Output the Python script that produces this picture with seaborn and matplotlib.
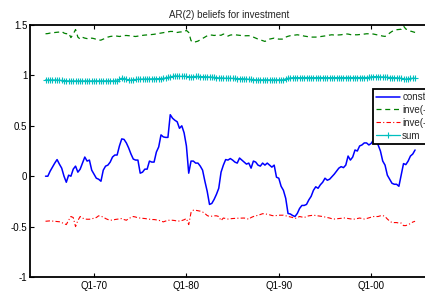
import numpy as np
import pandas as pd
import matplotlib
matplotlib.use("Agg")
import matplotlib.pyplot as plt
import seaborn as sns

# ---- data (quarterly, 1964Q4 .. 2004Q4) ----
start_year = 1964.75
const = [0.0, 0.0, 0.05, 0.09, 0.13, 0.165, 0.12, 0.08, -0.0, -0.06,
         0.01, 0.0, 0.07, 0.1, 0.04, 0.07, 0.13, 0.19, 0.15, 0.16,
         0.06, 0.02, -0.02, -0.03, -0.05, 0.06, 0.1, 0.11, 0.14, 0.19,
         0.21, 0.21, 0.3, 0.37, 0.365, 0.33, 0.28, 0.22, 0.17, 0.16,
         0.16, 0.03, 0.04, 0.07, 0.07, 0.15, 0.14, 0.14, 0.24, 0.29,
         0.41, 0.39, 0.385, 0.385, 0.61, 0.575, 0.555, 0.54, 0.475, 0.5,
         0.43, 0.3, 0.03, 0.15, 0.15, 0.13, 0.13, 0.1, 0.06, -0.05,
         -0.15, -0.28, -0.27, -0.23, -0.18, -0.12, 0.04, 0.11, 0.165, 0.16,
         0.175, 0.16, 0.14, 0.13, 0.18, 0.16, 0.14, 0.12, 0.13, 0.08,
         0.15, 0.14, 0.11, 0.1, 0.13, 0.11, 0.13, 0.11, 0.09, 0.11,
         -0.01, -0.02, -0.1, -0.14, -0.22, -0.37, -0.375, -0.39, -0.4, -0.37,
         -0.32, -0.29, -0.29, -0.28, -0.235, -0.2, -0.14, -0.105, -0.12, -0.085,
         -0.06, -0.02, -0.04, -0.03, -0.005, 0.02, 0.05, 0.08, 0.095, 0.085,
         0.11, 0.2, 0.16, 0.19, 0.26, 0.25, 0.3, 0.31, 0.33, 0.33,
         0.31, 0.325, 0.36, 0.35, 0.31, 0.25, 0.15, 0.11, 0.01, -0.03,
         -0.07, -0.08, -0.08, -0.1, 0.01, 0.125, 0.115, 0.15, 0.2, 0.22,
         0.26]
inve1 = [1.413, 1.415, 1.42, 1.423, 1.426, 1.428, 1.43, 1.436, 1.42, 1.413,
         1.42, 1.375, 1.41, 1.455, 1.38, 1.36, 1.378, 1.37, 1.365, 1.36,
         1.37, 1.365, 1.358, 1.35, 1.35, 1.36, 1.37, 1.38, 1.386, 1.39,
         1.393, 1.39, 1.386, 1.39, 1.395, 1.396, 1.394, 1.392, 1.388, 1.386,
         1.39, 1.393, 1.397, 1.40, 1.401, 1.403, 1.405, 1.408, 1.412, 1.417,
         1.42, 1.423, 1.427, 1.432, 1.436, 1.436, 1.43, 1.426, 1.43, 1.432,
         1.434, 1.446, 1.426, 1.345, 1.327, 1.333, 1.34, 1.353, 1.365, 1.38,
         1.393, 1.40, 1.40, 1.396, 1.40, 1.40, 1.398, 1.41, 1.405, 1.39,
         1.40, 1.403, 1.403, 1.40, 1.396, 1.395, 1.393, 1.393, 1.394, 1.39,
         1.38, 1.37, 1.36, 1.353, 1.345, 1.337, 1.35, 1.36, 1.365, 1.37,
         1.365, 1.36, 1.36, 1.36, 1.38, 1.388, 1.394, 1.397, 1.40, 1.403,
         1.40, 1.396, 1.39, 1.386, 1.383, 1.38, 1.38, 1.38, 1.382, 1.385,
         1.388, 1.39, 1.395, 1.40, 1.403, 1.40, 1.40, 1.402, 1.403, 1.408,
         1.412, 1.41, 1.405, 1.403, 1.403, 1.403, 1.405, 1.407, 1.41, 1.413,
         1.413, 1.413, 1.41, 1.405, 1.40, 1.395, 1.39, 1.387, 1.40, 1.42,
         1.436, 1.448, 1.453, 1.455, 1.458, 1.49, 1.46, 1.453, 1.44, 1.433,
         1.426]
inve2 = [-0.447, -0.445, -0.443, -0.445, -0.447, -0.45, -0.452, -0.46, -0.47, -0.48,
         -0.437, -0.40, -0.41, -0.50, -0.44, -0.40, -0.415, -0.425, -0.427, -0.427,
         -0.423, -0.417, -0.41, -0.393, -0.398, -0.405, -0.42, -0.43, -0.435, -0.437,
         -0.43, -0.427, -0.423, -0.42, -0.43, -0.437, -0.42, -0.41, -0.40, -0.405,
         -0.413, -0.415, -0.418, -0.42, -0.423, -0.427, -0.43, -0.43, -0.433, -0.437,
         -0.445, -0.453, -0.445, -0.437, -0.437, -0.437, -0.44, -0.445, -0.445, -0.44,
         -0.432, -0.42, -0.48, -0.36, -0.337, -0.338, -0.342, -0.347, -0.355, -0.37,
         -0.39, -0.40, -0.397, -0.393, -0.393, -0.40, -0.44, -0.415, -0.42, -0.425,
         -0.422, -0.42, -0.418, -0.417, -0.416, -0.414, -0.415, -0.42, -0.427, -0.41,
         -0.40, -0.393, -0.388, -0.38, -0.372, -0.373, -0.378, -0.383, -0.39, -0.393,
         -0.39, -0.387, -0.387, -0.387, -0.393, -0.40, -0.405, -0.41, -0.42, -0.41,
         -0.40, -0.405, -0.41, -0.40, -0.393, -0.39, -0.387, -0.39, -0.393, -0.395,
         -0.40, -0.405, -0.41, -0.415, -0.422, -0.425, -0.422, -0.42, -0.418, -0.413,
         -0.416, -0.42, -0.423, -0.427, -0.425, -0.42, -0.415, -0.42, -0.425, -0.42,
         -0.413, -0.405, -0.40, -0.40, -0.40, -0.393, -0.39, -0.40, -0.425, -0.445,
         -0.46, -0.46, -0.46, -0.465, -0.465, -0.49, -0.49, -0.48, -0.47, -0.455,
         -0.447]
sum_ = [0.955, 0.955, 0.955, 0.955, 0.955, 0.955, 0.952, 0.95, 0.948, 0.946,
        0.945, 0.945, 0.944, 0.945, 0.946, 0.945, 0.944, 0.944, 0.945, 0.946,
        0.945, 0.944, 0.944, 0.945, 0.945, 0.944, 0.944, 0.945, 0.944, 0.944,
        0.945, 0.946, 0.96, 0.972, 0.968, 0.962, 0.955, 0.952, 0.958, 0.96,
        0.962, 0.963, 0.963, 0.964, 0.965, 0.965, 0.966, 0.966, 0.967, 0.968,
        0.968, 0.97, 0.975, 0.98, 0.985, 0.99, 0.995, 0.993, 0.99, 0.99,
        0.992, 0.99, 0.985, 0.985, 0.988, 0.99, 0.99, 0.988, 0.988, 0.987,
        0.985, 0.985, 0.983, 0.98, 0.978, 0.975, 0.975, 0.973, 0.972, 0.972,
        0.972, 0.97, 0.97, 0.968, 0.968, 0.968, 0.966, 0.965, 0.962, 0.96,
        0.958, 0.956, 0.956, 0.956, 0.955, 0.956, 0.956, 0.955, 0.956, 0.956,
        0.956, 0.955, 0.956, 0.956, 0.965, 0.972, 0.975, 0.977, 0.978, 0.978,
        0.977, 0.978, 0.978, 0.979, 0.978, 0.978, 0.977, 0.978, 0.978, 0.979,
        0.978, 0.978, 0.977, 0.978, 0.978, 0.978, 0.979, 0.978, 0.978, 0.977,
        0.978, 0.978, 0.979, 0.978, 0.978, 0.978, 0.977, 0.978, 0.978, 0.979,
        0.98, 0.985, 0.988, 0.988, 0.987, 0.985, 0.985, 0.983, 0.98, 0.978,
        0.978, 0.977, 0.977, 0.975, 0.972, 0.968, 0.962, 0.965, 0.97, 0.972,
        0.972]
tick_years = [1970, 1980, 1990, 2000]
tick_labels = ["Q1-70", "Q1-80", "Q1-90", "Q1-00"]
ytick_vals = [-1, -0.5, 0, 0.5, 1, 1.5]
ytick_labels = ["-1", "-0.5", "0", "0.5", "1", "1.5"]
series_names = ["const", "inve(-1)", "inve(-2)", "sum"]
title = "AR(2) beliefs for investment"

# ---- build frame ----
n = len(const)
t = start_year + 0.25 * np.arange(n)
df = pd.DataFrame({"t": t, "const": const, "inve1": inve1,
                   "inve2": inve2, "sum": sum_})

sns.set_style("white")
plt.rcParams["font.family"] = ["Liberation Sans", "DejaVu Sans"]
plt.rcParams["font.size"] = 7

W, H = 425, 291
fig = plt.figure(figsize=(W / 100, H / 100), dpi=100)
ax = fig.add_axes([30 / W, 1 - 277 / H, 398 / W, 252 / H])

cyan = "#00bfbf"
sns.lineplot(data=df, x="t", y="const", ax=ax, color="#0000ff",
             linewidth=1.1, label=series_names[0])
sns.lineplot(data=df, x="t", y="inve1", ax=ax, color="#008000",
             linewidth=0.9, linestyle=(0, (4, 3)), label=series_names[1])
sns.lineplot(data=df, x="t", y="inve2", ax=ax, color="#ff0000",
             linewidth=0.8, linestyle=(0, (4, 2, 1, 2)), label=series_names[2])
sns.lineplot(data=df, x="t", y="sum", ax=ax, color=cyan,
             linewidth=0.9, marker="+", markersize=5, markeredgewidth=0.8,
             markeredgecolor=cyan, markerfacecolor=cyan,
             label=series_names[3])

ax.set_xlim(1963.07, 2006.15)
ax.set_ylim(-1, 1.5)
ax.set_xticks(tick_years)
ax.set_xticklabels(tick_labels)
ax.set_yticks(ytick_vals)
ax.set_yticklabels(ytick_labels)
ax.set_xlabel("")
ax.set_ylabel("")
ax.set_title(title, fontsize=7, pad=5)
ax.tick_params(direction="in", length=3, width=0.8, colors="black",
               labelsize=7, pad=3, top=True, right=False, bottom=True, left=True)
ax.tick_params(axis="y", pad=2)
for s in ax.spines.values():
    s.set_visible(True)
    s.set_color("black")
    s.set_linewidth(1.3)

leg = ax.get_legend()
if leg is not None:
    leg.remove()
handles, labels = ax.get_legend_handles_labels()
lg = fig.legend(handles, labels, loc="upper left",
                bbox_to_anchor=(373 / W, 1 - 89 / H),
                bbox_transform=fig.transFigure,
                fontsize=7, frameon=True, fancybox=False, framealpha=1,
                edgecolor="black", borderpad=0.3, handlelength=2.5,
                handletextpad=0.2, labelspacing=0.3, borderaxespad=0)
lg.get_frame().set_linewidth(1.3)

fig.savefig("out.png", dpi=100)
